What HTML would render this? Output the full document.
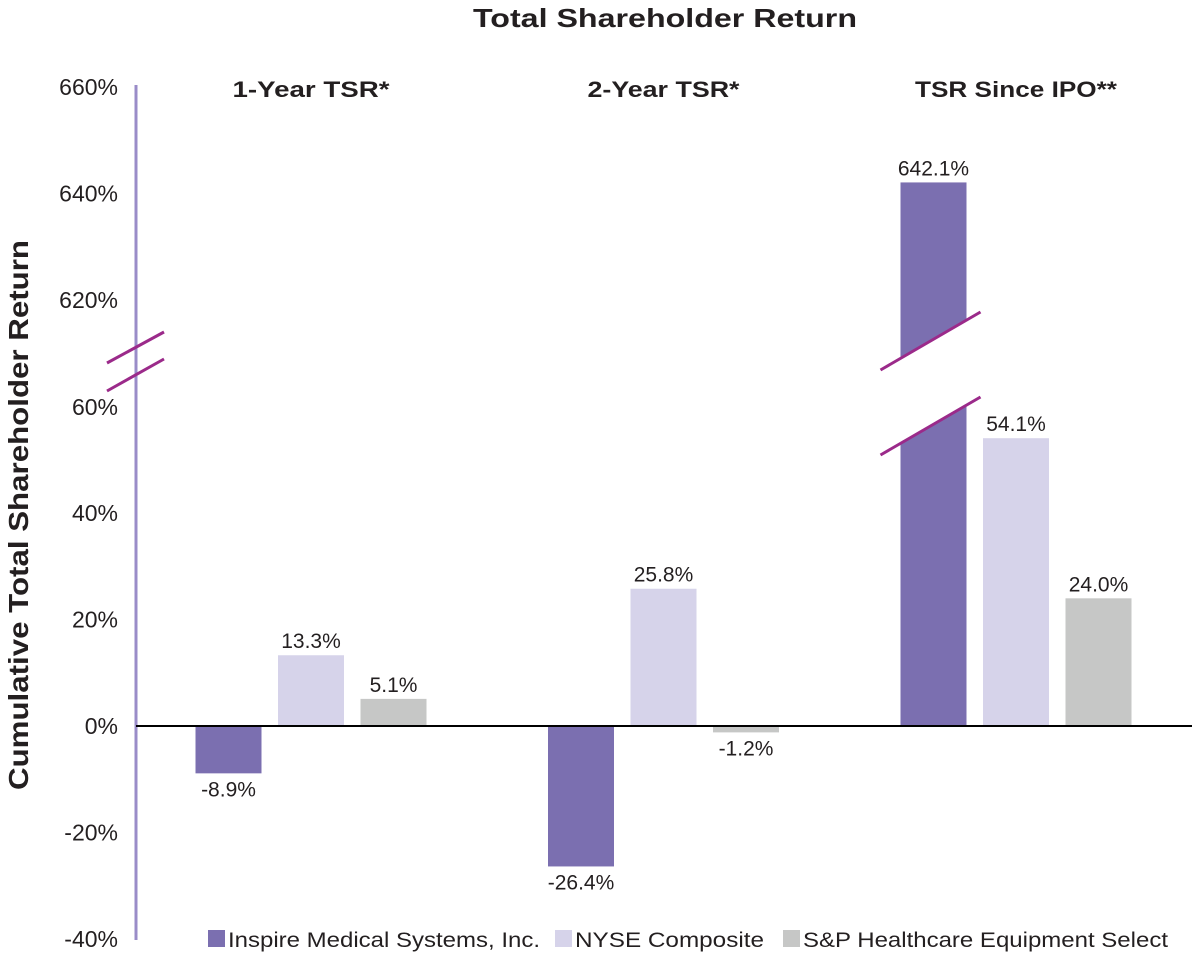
<!DOCTYPE html>
<html><head><meta charset="utf-8"><style>
body{margin:0;background:#fff;}
svg{display:block;font-family:"Liberation Sans",Arial,sans-serif;}
</style></head><body>
<svg id="chart" width="1192" height="962">
<text x="665" y="27" text-anchor="middle" font-size="26" font-weight="bold" fill="#231f20" textLength="384" lengthAdjust="spacingAndGlyphs">Total Shareholder Return</text>
<text transform="translate(28,515) rotate(-90)" text-anchor="middle" font-size="28" font-weight="bold" fill="#231f20" textLength="550" lengthAdjust="spacingAndGlyphs">Cumulative Total Shareholder Return</text>
<g id="ticks"></g>
<g id="bars"></g>
<line x1="136" y1="85" x2="136" y2="940" stroke="#9a8cc8" stroke-width="3"/>
<line x1="136" y1="726" x2="1192" y2="726" stroke="#000" stroke-width="2"/>
<line x1="107" y1="363" x2="164" y2="332" stroke="#9b2a8a" stroke-width="3"/>
<line x1="107" y1="391" x2="164" y2="359" stroke="#9b2a8a" stroke-width="3"/>
<g id="legend" font-size="21" fill="#231f20">
<rect x="208" y="930" width="17" height="17" fill="#7b6fb0"/>
<text x="228" y="947" textLength="312" lengthAdjust="spacingAndGlyphs">Inspire Medical Systems, Inc.</text>
<rect x="555" y="930" width="17" height="17" fill="#d6d3ea"/>
<text x="575" y="947" textLength="189" lengthAdjust="spacingAndGlyphs">NYSE Composite</text>
<rect x="783" y="930" width="17" height="17" fill="#c6c7c6"/>
<text x="803" y="947" textLength="365" lengthAdjust="spacingAndGlyphs">S&amp;P Healthcare Equipment Select</text>
</g>
</svg>
<script>
const categories = ["1-Year TSR*", "2-Year TSR*", "TSR Since IPO**"];
const inspire = [-8.9, -26.4, 642.1];
const nyse = [13.3, 25.8, 54.1];
const spHealth = [5.1, -1.2, 24.0];
const tickLabels = [-40, -20, 0, 20, 40, 60, 620, 640, 660];
const titleWidths = [157, 152, 202];

const NS = "http://www.w3.org/2000/svg";
function y(v){ return v <= 100 ? 726 - v*5.32 : 300 - (v-620)*5.32; }
function groupX(i){ return 311 + i*352.5; }
function mk(tag, attrs, parent){ const e=document.createElementNS(NS,tag); for(const k in attrs) e.setAttribute(k,attrs[k]); parent.appendChild(e); return e; }

const tg = document.getElementById('ticks');
tickLabels.forEach(t=>{
  const e = mk('text',{x:118,y:y(t)+8,'text-anchor':'end','font-size':23,fill:'#231f20'},tg);
  e.textContent = t + '%';
  
  
});

const bg = document.getElementById('bars');
const series = [[inspire,'#7b6fb0','inspire'],[nyse,'#d6d3ea','nyse'],[spHealth,'#c6c7c6','sp']];
categories.forEach((c,i)=>{
  const ct = mk('text',{x:groupX(i),y:97,'text-anchor':'middle','font-size':22,'font-weight':'bold',fill:'#231f20',textLength:titleWidths[i],lengthAdjust:'spacingAndGlyphs'},bg);
  ct.textContent = c;
  
  
  series.forEach((s,j)=>{
    const v = s[0][i];
    const cx = groupX(i) + (j-1)*82.5;
    const top = Math.min(y(v), y(0)), h = Math.abs(y(v)-y(0));
    const r = mk('rect',{x:cx-33,y:top,width:66,height:h,fill:s[1]},bg);
    
    
    const ly = v >= 0 ? y(v) - 7 : y(v) + 23;
    const l = mk('text',{x:cx,y:ly,'text-anchor':'middle','font-size':21,fill:'#231f20'},bg);
    l.textContent = v.toFixed(1) + '%';
    
    
    if (v > 100) {
      const gap = mk('polygon',{points:(cx-36)+',359 '+(cx+36)+',317 '+(cx+36)+',402 '+(cx-36)+',444',fill:'#fff'},bg);
      
      
      const l1 = mk('line',{x1:cx-53,y1:370,x2:cx+47,y2:312,stroke:'#9b2a8a','stroke-width':3},bg);
      
      
      const l2 = mk('line',{x1:cx-53,y1:455,x2:cx+47,y2:397,stroke:'#9b2a8a','stroke-width':3},bg);
      
      
    }
  });
});
</script>
</body></html>
